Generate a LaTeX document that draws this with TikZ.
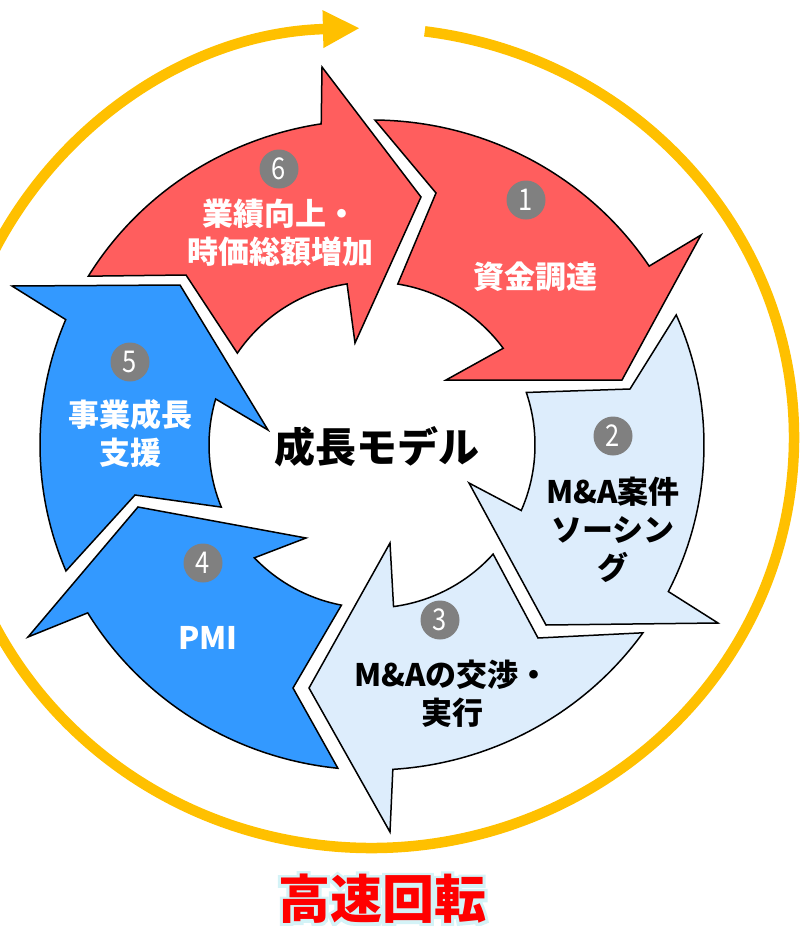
\documentclass[tikz,border=0pt]{standalone}
\usepackage{fontspec}
\setmainfont{Noto Sans CJK JP}
\newfontfamily\numfont{Noto Sans CJK JP}[FakeStretch=0.85]
\newfontfamily\glowfont{Noto Sans CJK JP}[FakeBold=12]
\usetikzlibrary{calc,arrows.meta}
\definecolor{redA}{HTML}{FF5E5E}
\definecolor{blueA}{HTML}{3399FF}
\definecolor{lblue}{HTML}{DDEDFC}
\definecolor{gold}{HTML}{FFC000}
\definecolor{numgray}{HTML}{808080}
\definecolor{glowc}{HTML}{D4F3F7}
\begin{document}
\begin{tikzpicture}[x=1pt,y=-1pt,
  ring/.style={draw=black, line width=1.5pt},
  numc/.style={circle, fill=numgray, minimum size=39pt, inner sep=0pt, text=white, font=\numfont\fontsize{30}{30}\selectfont},
  lab/.style={align=center, inner sep=0pt, font=\bfseries\fontsize{31}{38}\selectfont},
  goldline/.style={draw=gold, line width=10.5pt, -{Triangle[length=37pt,width=35pt]}},
  titlefont/.style={font=\bfseries\fontsize{52}{52}\selectfont}]
\useasboundingbox (0,0) rectangle (800,926);
\coordinate (C) at (372,445);
\coordinate (Y) at (371,438);

% outer gold cycle
\draw[goldline] ($(Y)+(-82.7:423 and 410)$) arc[start angle=-82.7, end angle=268.5, x radius=423, y radius=410];

% arrow 6
\path[ring, fill=redA] ($(C)+(211.3:332 and 325)$) arc[start angle=211.3, end angle=261.2, x radius=332, y radius=325]
  -- (322,67) -- (421,197) -- (355,343) -- ($(C)+(261.2:163)$) arc[start angle=261.2, end angle=214.3, radius=163]
  -- (186,275) -- cycle;
% arrow 1
\path[ring, fill=redA] ($(C)+(270.5:332 and 325)$) arc[start angle=270.5, end angle=326.6, x radius=332, y radius=325]
  -- (701,235) -- (622,380) -- (446,380) -- ($(C)+(323.6:163)$) arc[start angle=323.6, end angle=279.1, radius=163]
  -- (436,193) -- cycle;
% arrow 2
\path[ring, fill=lblue] ($(C)+(336.4:332 and 325)$) arc[start angle=336.4, end angle=386.8, x radius=332, y radius=325]
  -- (718,623) -- (546,625) -- (469,483) -- ($(C)+(23.7:163)$) arc[start angle=23.7, end angle=-18.8, radius=163]
  -- (630,389) -- cycle;
% arrow 3
\path[ring, fill=lblue] ($(C)+(35.3:332 and 325)$) arc[start angle=35.3, end angle=86.4, x radius=332, y radius=325]
  -- (390,832) -- (309,688) -- (390,543) -- ($(C)+(82.4:163)$) arc[start angle=82.4, end angle=42, radius=163]
  -- (538,638) -- cycle;
% arrow 4
\path[ring, fill=blueA] ($(C)+(95.9:332 and 325)$) arc[start angle=95.9, end angle=148.9, x radius=332, y radius=325]
  -- (28,637) -- (138,507) -- (306,538) -- ($(C)+(136.2:163)$) arc[start angle=136.2, end angle=100.8, radius=163]
  -- (293,688) -- cycle;
% arrow 5
\path[ring, fill=blueA] ($(C)+(157.2:332 and 325)$) arc[start angle=157.2, end angle=202.7, x radius=332, y radius=325]
  -- (12,286) -- (180,285) -- (268,430) -- ($(C)+(196.4:163)$) arc[start angle=196.4, end angle=157.6, radius=163]
  -- (135,495) -- cycle;

% number badges
\node[numc] (n1) at (526,200) {1};
\node[numc] (n2) at (613,436) {2};
\node[numc] (n3) at (440,620) {3};
\node[numc] (n4) at (203,563) {4};
\node[numc] (n5) at (130,362) {5};
\node[numc] (n6) at (279,169) {6};

% labels
\node[lab, text=white] (l6) at (280,232.5) {業績向上・\\時価総額増加};
\node[lab, text=white] (l1) at (535,277) {資金調達};
\node[lab, text=black] (l2) at (613,530) {M\&A案件\\ソーシン\\グ};
\node[lab, text=black] (l3) at (452,693.5) {M\&Aの交渉・\\実行};
\node[lab, text=white] (l4) at (208,638) {PMI};
\node[lab, text=white] (l5) at (130,433.5) {事業成長\\支援};

% centre
\node[inner sep=0pt, font=\bfseries\fontsize{41}{41}\selectfont] (ctr) at (377,447) {成長モデル};

% title with glow
\coordinate (T) at (382,899);
\node[titlefont, text=glowc, inner sep=0pt] (glow) at (T) {\glowfont\bfseries 高速回転};
\node[titlefont, text=red, inner sep=0pt] (title) at (T) {高速回転};
\end{tikzpicture}
\end{document}
